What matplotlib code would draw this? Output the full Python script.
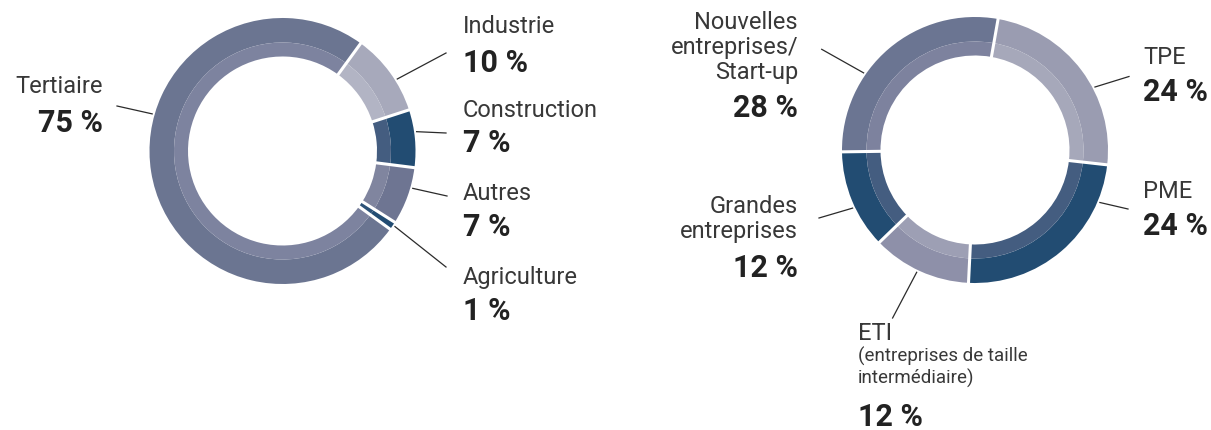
import numpy as np
import matplotlib
matplotlib.use("Agg")
import matplotlib.pyplot as plt

# ---------------- data ----------------
sect_labels = ["Industrie", "Construction", "Autres", "Agriculture", "Tertiaire"]
sect_values = [10, 7, 7, 1, 75]
sect_outer = ["#a7a9bb", "#224c72", "#6e7592", "#224c72", "#6b7591"]
sect_inner = ["#b2b4c4", "#445d80", "#80859f", "#2c5278", "#7d839f"]

size_labels = ["TPE", "PME", "ETI", "Grandes\nentreprises", "Nouvelles\nentreprises/\nStart-up"]
size_values = [24, 24, 12, 12, 28]
size_outer = ["#9a9cb1", "#224c72", "#8e90a9", "#224c72", "#6b7592"]
size_inner = ["#a6a8ba", "#445d80", "#9d9fb4", "#445d80", "#7d829e"]

W, H = 1211, 430
fig = plt.figure(figsize=(W / 100, H / 100), dpi=100)
ax = fig.add_axes([0, 0, 1, 1])

def Y(py):
    return H - py

R_OUT, R_MID, R_IN = 133, 108.5, 94.5

def donut(cx, cy, values, outer, inner, start):
    c = (cx, Y(cy))
    ax.pie(values, colors=outer, radius=R_OUT, center=c, startangle=start,
           counterclock=False, wedgeprops=dict(width=R_OUT - R_MID, linewidth=0))
    ax.pie(values, colors=inner, radius=R_MID, center=c, startangle=start,
           counterclock=False, wedgeprops=dict(width=R_MID - R_IN, linewidth=0))
    # white separators
    cum = np.concatenate([[0], np.cumsum(values)]) / np.sum(values)
    for f in cum[:-1]:
        a = np.deg2rad(start - 360 * f)
        ax.plot([c[0] + (R_IN - 2) * np.cos(a), c[0] + (R_OUT + 2) * np.cos(a)],
                [c[1] + (R_IN - 2) * np.sin(a), c[1] + (R_OUT + 2) * np.sin(a)],
                color="white", lw=2.2, solid_capstyle="butt", zorder=5)

def leader(cx, cy, ang, ex, ey, r=135.5):
    a = np.deg2rad(ang)
    ax.plot([cx + r * np.cos(a), ex], [Y(cy) + r * np.sin(a), Y(ey)],
            color="#2b2b2b", lw=0.9, zorder=6)

FONT = "Roboto"
LBL = dict(fontsize=17, color="#383838", family=FONT, va="baseline")
PCT = dict(fontsize=22, color="#222222", family=FONT, fontweight="bold", va="baseline")

# left donut
LCX, LCY = 282.5, 151
donut(LCX, LCY, sect_values, sect_outer, sect_inner, 54)
left_layout = {
    "Industrie": (32.1, 446, 53, 463, 33, 72, "left"),
    "Construction": (8.2, 446, 133, 463, 117, 152, "left"),
    "Autres": (-16.0, 447, 196, 463, 200, 236, "left"),
    "Agriculture": (-33.9, 446, 267, 463, 284, 320, "left"),
    "Tertiaire": (164.1, 117, 106, 103, 93, 132, "right"),
}
for lab, val in zip(sect_labels, sect_values):
    ang, ex, ey, tx, by, py, ha = left_layout[lab]
    leader(LCX, LCY, ang, ex, ey)
    ax.text(tx, Y(by), lab, ha=ha, **LBL)
    ax.text(tx, Y(py), f"{val} %", ha=ha, **PCT)

# right donut
RCX, RCY = 975, 150
donut(RCX, RCY, size_values, size_outer, size_inner, 80)
right_layout = {
    "TPE": (27.7, 1129, 76.5, 1143, [64], 101, "left"),
    "PME": (-22.8, 1128, 209, 1143, [198], 235, "left"),
    "ETI": (-115.5, 892.6, 318, 858, [340], 426, "left"),
    "Grandes\nentreprises": (-154.6, 819, 218, 798, [213, 238], 277, "right"),
    "Nouvelles\nentreprises/\nStart-up": (145.3, 821.7, 49.3, 798, [29, 54, 79], 117, "right"),
}
for lab, val in zip(size_labels, size_values):
    ang, ex, ey, tx, bys, py, ha = right_layout[lab]
    leader(RCX, RCY, ang, ex, ey)
    for line, by in zip(lab.split("\n"), bys):
        ax.text(tx, Y(by), line, ha=ha, **LBL)
    ax.text(tx, Y(py), f"{val} %", ha=ha, **PCT)

SUB = dict(fontsize=13.5, color="#383838", family=FONT, va="baseline", ha="left")
ax.text(858, Y(362), "(entreprises de taille", **SUB)
ax.text(858, Y(384), "intermédiaire)", **SUB)

ax.set_xlim(0, W)
ax.set_ylim(0, H)
ax.set_aspect("equal")
ax.axis("off")
fig.savefig("out.png", dpi=100, facecolor="white")
